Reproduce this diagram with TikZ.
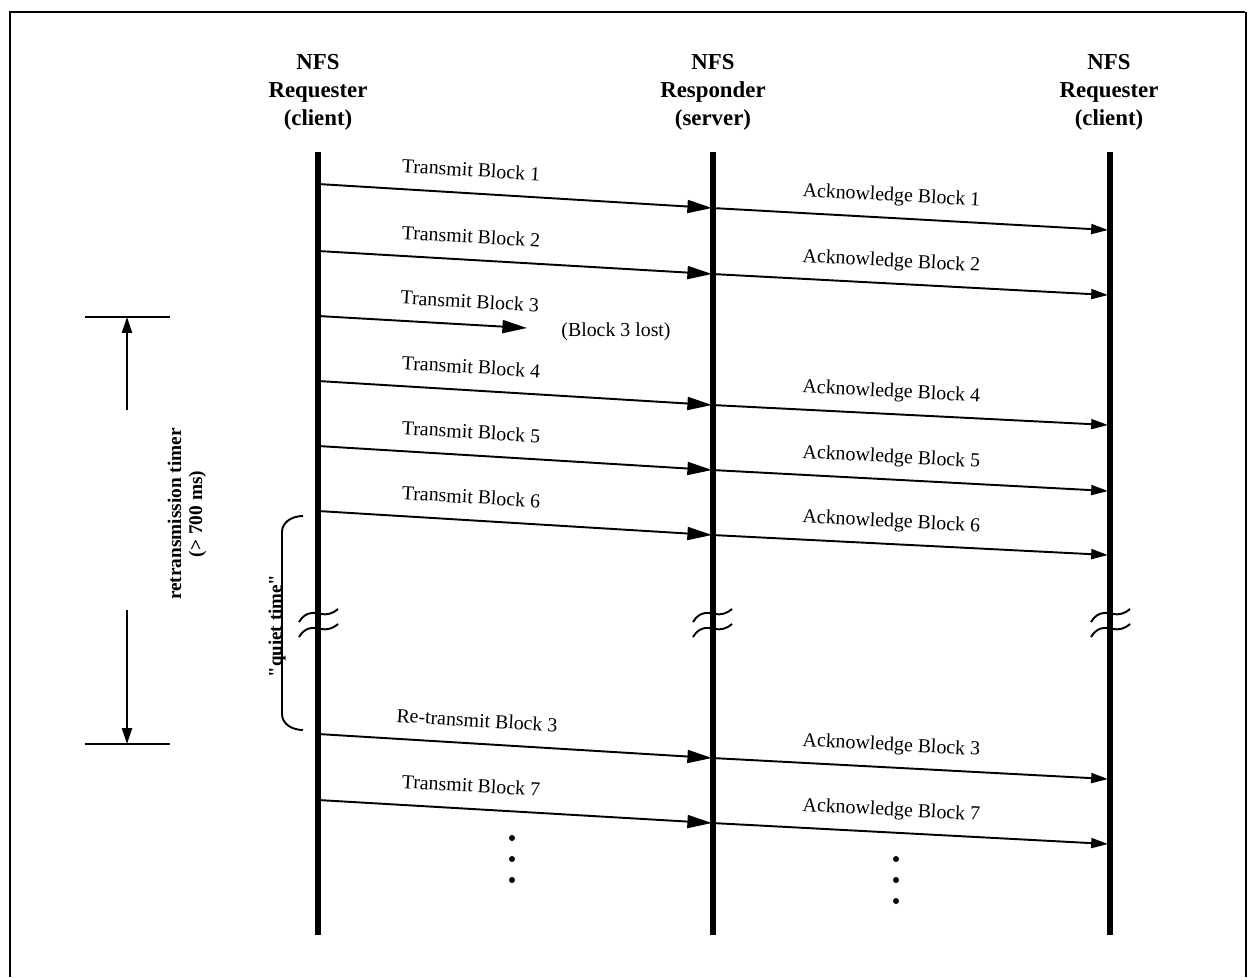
\documentclass[tikz,border=0pt]{standalone}
\usepackage{fontspec}
\setmainfont{Liberation Serif}
\usetikzlibrary{arrows.meta}
\tikzset{
  header/.style={
    font=\fontsize{13}{16}\selectfont\bfseries,
    align=center,
    inner sep=0pt
  },
  lifeline/.style={line width=3.4pt},
  sendmsg/.style={-{Triangle[length=14pt,width=7.4pt]},line width=1.1pt},
  ackmsg/.style={-{Triangle[length=9.6pt,width=5.7pt]},line width=1.1pt},
  timerarrow/.style={-{Triangle[length=9pt,width=5.7pt]},line width=1.1pt},
  msglabel/.style={font=\fontsize{11.3}{13}\selectfont,sloped,above=4.5pt,
    text height=1.6ex,text depth=0.25ex},
  sidelabel/.style={font=\fontsize{11}{12}\selectfont\bfseries,align=center,rotate=90,inner sep=0pt},
  brk/.pic={
    \draw[line width=1.1pt] (-19,0) .. controls (-12,-12) and (-2,-9) .. (3,-8)
      .. controls (9,-7) and (14,-8) .. (20,-13);
    \draw[line width=1.1pt] (-19,15) .. controls (-12,3) and (-2,6) .. (3,7)
      .. controls (9,8) and (14,7) .. (20,2);
  }
}

\begin{document}
\begin{tikzpicture}[x=0.02cm,y=-0.02cm]
    \useasboundingbox (0,0) rectangle (1247,977);
    % frame
    \draw[line width=1.7pt] (10,977) -- (10,12) -- (1245,12);
    \draw[line width=0.6pt] (1246,12) -- (1246,977);

    % the three parties
    \node[header] (cli) at (318,92) {NFS\\Requester\\(client)};
    \node[header] (srv) at (713,92) {NFS\\Responder\\(server)};
    \node[header] (rcl) at (1109,92) {NFS\\Requester\\(client)};
    \coordinate (cliTop) at (318,152);
    \coordinate (cliBot) at (318,935);
    \coordinate (srvTop) at (713,152);
    \coordinate (srvBot) at (713,935);
    \coordinate (rclTop) at (1110,152);
    \coordinate (rclBot) at (1110,935);
    \draw[lifeline] (cliTop) -- (cliBot);
    \draw[lifeline] (srvTop) -- (srvBot);
    \draw[lifeline] (rclTop) -- (rclBot);

    % message end points
    \coordinate (c1) at (318,184); \coordinate (s1) at (712,208); \coordinate (r1) at (1108,230);
    \coordinate (c2) at (318,251); \coordinate (s2) at (712,274); \coordinate (r2) at (1108,295);
    \coordinate (c3) at (318,316); \coordinate (x3) at (527,328);
    \coordinate (c4) at (318,381); \coordinate (s4) at (712,405); \coordinate (r4) at (1108,425);
    \coordinate (c5) at (318,446); \coordinate (s5) at (712,470); \coordinate (r5) at (1108,491);
    \coordinate (c6) at (318,511); \coordinate (s6) at (712,535); \coordinate (r6) at (1108,555);
    \coordinate (cR) at (318,734); \coordinate (sR) at (712,758); \coordinate (rR) at (1108,779);
    \coordinate (c7) at (318,800); \coordinate (s7) at (712,823); \coordinate (r7) at (1108,844);

    \draw[sendmsg] (c1) -- node[msglabel,pos=0.385]{Transmit Block 1} (s1);
    \draw[ackmsg] (s1) -- node[msglabel,pos=0.45]{Acknowledge Block 1} (r1);
    \draw[sendmsg] (c2) -- node[msglabel,pos=0.385]{Transmit Block 2} (s2);
    \draw[ackmsg] (s2) -- node[msglabel,pos=0.45]{Acknowledge Block 2} (r2);
    \draw[sendmsg] (c3) -- node[msglabel,pos=0.72]{Transmit Block 3} (x3);
    \node[font=\fontsize{11.3}{13}\selectfont] (lost) at (616,332) {(Block 3 lost)};
    \draw[sendmsg] (c4) -- node[msglabel,pos=0.385]{Transmit Block 4} (s4);
    \draw[ackmsg] (s4) -- node[msglabel,pos=0.45]{Acknowledge Block 4} (r4);
    \draw[sendmsg] (c5) -- node[msglabel,pos=0.385]{Transmit Block 5} (s5);
    \draw[ackmsg] (s5) -- node[msglabel,pos=0.45]{Acknowledge Block 5} (r5);
    \draw[sendmsg] (c6) -- node[msglabel,pos=0.385]{Transmit Block 6} (s6);
    \draw[ackmsg] (s6) -- node[msglabel,pos=0.45]{Acknowledge Block 6} (r6);
    \draw[sendmsg] (cR) -- node[msglabel,pos=0.4]{Re-transmit Block 3} (sR);
    \draw[ackmsg] (sR) -- node[msglabel,pos=0.45]{Acknowledge Block 3} (rR);
    \draw[sendmsg] (c7) -- node[msglabel,pos=0.385]{Transmit Block 7} (s7);
    \draw[ackmsg] (s7) -- node[msglabel,pos=0.45]{Acknowledge Block 7} (r7);

    % time breaks
    \pic at (318,622) {brk};
    \pic at (712,622) {brk};
    \pic at (1110,622) {brk};

    % quiet time
    \draw[line width=1.1pt] (303,516) to[out=180,in=90] (282,532) -- (282,714)
      to[out=-90,in=180] (303,730);
    \node[sidelabel,font=\fontsize{10.8}{12}\selectfont\bfseries] (quiet) at (277,626)
      {\textquotedbl quiet time\textquotedbl};

    % retransmission timer
    \draw[line width=1.1pt] (85,317) -- (170,317);
    \draw[line width=1.1pt] (85,744) -- (170,744);
    \coordinate (tmTop) at (127,317);
    \coordinate (tmBot) at (127,744);
    \coordinate (tmUp) at (127,410);
    \coordinate (tmDn) at (127,610);
    \draw[timerarrow] (tmUp) -- (tmTop);
    \draw[timerarrow] (tmDn) -- (tmBot);
    \node[sidelabel] (timer) at (187,514) {retransmission timer\\(> 700 ms)};

    % more to come
    \foreach \y in {838,859,880} \fill (512,\y) circle (3);
    \foreach \y in {859,880,901} \fill (896,\y) circle (3);
  \end{tikzpicture}
\end{document}
